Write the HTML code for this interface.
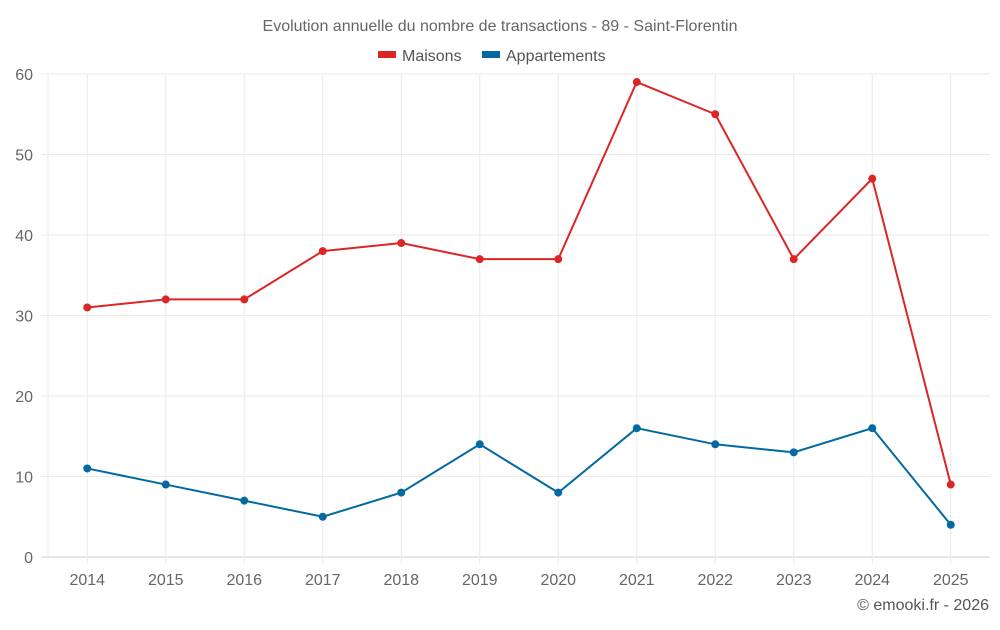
<!DOCTYPE html>
<html><head><meta charset="utf-8"><style>
body{margin:0;background:#fff;font-family:"Liberation Sans",sans-serif}
</style></head><body>
<svg id="chart" width="1000" height="625" xmlns="http://www.w3.org/2000/svg" font-family="Liberation Sans, sans-serif">
<text x="500" y="31" text-anchor="middle" font-size="16" fill="#666">Evolution annuelle du nombre de transactions - 89 - Saint-Florentin</text>
<g><rect x="378" y="51" width="18" height="7" fill="#dc2626"/><text x="402" y="61" font-size="16" fill="#555">Maisons</text></g>
<g><rect x="482" y="51" width="18" height="7" fill="#0369a1"/><text x="506" y="61" font-size="16" fill="#555">Appartements</text></g>
<g id="grid"></g><g id="axes"></g><g id="series"></g>
<text x="989" y="610" text-anchor="end" font-size="16" fill="#555">© emooki.fr - 2026</text>
</svg>
<script>
const categories=["2014","2015","2016","2017","2018","2019","2020","2021","2022","2023","2024","2025"];
const maisons=[31,32,32,38,39,37,37,59,55,37,47,9];
const appartements=[11,9,7,5,8,14,8,16,14,13,16,4];
const yTicks=[0,10,20,30,40,50,60];
const L=48,R=990,T=74,B=557,yMax=60;
const band=(R-L)/categories.length;
const x=i=>L+band*(i+0.5);
const y=v=>B-(v/yMax)*(B-T);
const NS="http://www.w3.org/2000/svg";
function mk(tag,attrs,parent){const e=document.createElementNS(NS,tag);for(const k in attrs)e.setAttribute(k,attrs[k]);document.getElementById(parent).appendChild(e);return e;}
yTicks.forEach(t=>{
  const g=mk('line',{x1:41,x2:R,y1:y(t),y2:y(t),stroke:t===0?'#ccc':'#eaeaea'},'grid');
  
  
  const tx=mk('text',{x:33,y:y(t)+6,'text-anchor':'end','font-size':16,fill:'#666'},'axes');
  tx.textContent=t;
  
  
});
mk('line',{x1:L,x2:L,y1:T,y2:B,stroke:'#eaeaea'},'grid');
categories.forEach((c,i)=>{
  const g=mk('line',{x1:x(i),x2:x(i),y1:T,y2:B+7,stroke:'#eaeaea'},'grid');
  
  
  const tx=mk('text',{x:x(i),y:585,'text-anchor':'middle','font-size':16,fill:'#666'},'axes');
  tx.textContent=c;
  
  
});
function series(vals,color,name){
  const p=mk('polyline',{points:vals.map((v,i)=>x(i)+','+y(v)).join(' '),fill:'none',stroke:color,'stroke-width':2},'series');
  
  
  vals.forEach((v,i)=>{
    const c=mk('circle',{cx:x(i),cy:y(v),r:4,fill:color},'series');
    
    
  });
}
series(maisons,'#dc2626','maisons');
series(appartements,'#0369a1','appartements');
</script>
</body></html>
